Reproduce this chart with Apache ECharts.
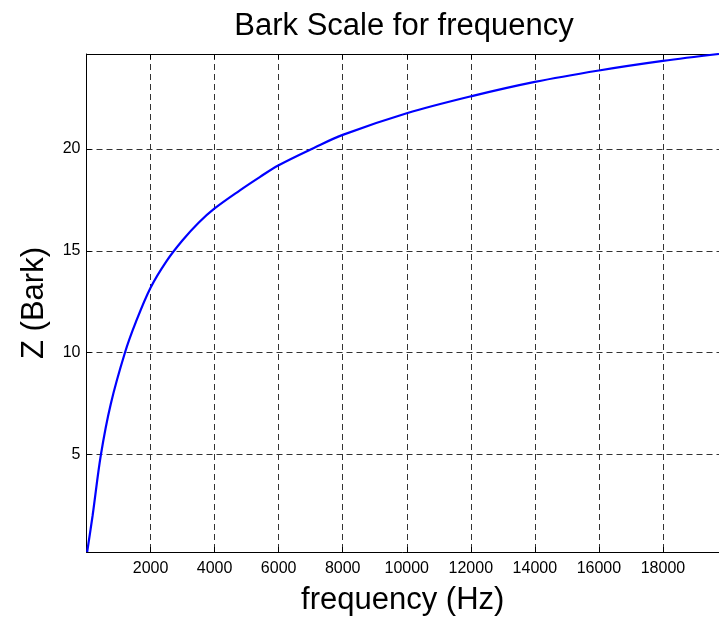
<!DOCTYPE html>
<html>
<head>
<meta charset="utf-8">
<script src="https://cdn.jsdelivr.net/npm/echarts@6/dist/echarts.min.js"></script>
<style>
  html, body { margin: 0; padding: 0; background: #fff; }
  #chart { width: 719px; height: 621px; }
</style>
</head>
<body>
<div id="chart"></div>
<script>
// values (Hz -> Bark)
var freq = [20, 190, 450, 760, 1200, 1540, 2000, 2500, 3000, 3500, 4000, 4790, 5410, 6000, 7100, 8000, 10000, 12000, 14000, 16000, 18000, 19750];
var bark = [0.22, 2.0, 5.0, 7.5, 10.0, 11.5, 13.19, 14.5, 15.52, 16.38, 17.08, 17.97, 18.62, 19.2, 20.05, 20.69, 21.75, 22.58, 23.29, 23.85, 24.32, 24.66];
var xTicks = [2000, 4000, 6000, 8000, 10000, 12000, 14000, 16000, 18000];
var yTicks = [5, 10, 15, 20];

var font = 'Liberation Sans, Arial, sans-serif';
var pts = freq.map(function (f, i) { return [f, bark[i]]; });
var plain = function (v) { return String(v); };

var chart = echarts.init(document.getElementById('chart'));
chart.setOption({
  animation: false,
  title: {
    text: 'Bark Scale for frequency',
    left: 404,
    top: 11,
    textAlign: 'center',
    padding: 0,
    textStyle: { fontFamily: font, fontSize: 31, fontWeight: 'normal', color: '#000' }
  },
  grid: { left: 86.5, top: 54, right: 0, bottom: 64.5 },
  xAxis: [{
    type: 'value',
    min: 0,
    max: 19750,
    name: 'frequency (Hz)',
    nameLocation: 'middle',
    nameGap: 33,
    nameTextStyle: { fontFamily: font, fontSize: 31, color: '#000' },
    axisLine: { lineStyle: { color: '#000', width: 1 } },
    axisTick: { inside: true, length: 5, customValues: xTicks, lineStyle: { color: '#000' } },
    axisLabel: { customValues: xTicks, formatter: plain, margin: 9, fontFamily: font, fontSize: 16, color: '#000' },
    splitLine: { show: true, lineStyle: { color: '#333', type: [6, 4], width: 1 } }
  }, {
    type: 'value',
    position: 'top',
    min: 0,
    max: 19750,
    axisLine: { show: true, onZero: false, lineStyle: { color: '#000', width: 1 } },
    axisTick: { inside: true, length: 5, customValues: xTicks, lineStyle: { color: '#000' } },
    axisLabel: { show: false },
    splitLine: { show: false }
  }],
  yAxis: {
    type: 'value',
    min: 0.22,
    max: 24.66,
    name: 'Z (Bark)',
    nameLocation: 'middle',
    nameGap: 37,
    nameTextStyle: { fontFamily: font, fontSize: 31, color: '#000' },
    axisLine: { show: true, lineStyle: { color: '#000', width: 1 } },
    axisTick: { show: true, inside: true, length: 5, customValues: yTicks, lineStyle: { color: '#000' } },
    axisLabel: { customValues: yTicks, formatter: plain, margin: 6, fontFamily: font, fontSize: 16, color: '#000' },
    splitLine: { show: true, lineStyle: { color: '#333', type: [6, 4], width: 1 } }
  },
  series: [{
    type: 'line',
    xAxisIndex: 0,
    data: pts,
    smooth: 0.35,
    symbol: 'none',
    lineStyle: { color: '#0000ff', width: 2.2 }
  }]
});
</script>
</body>
</html>
